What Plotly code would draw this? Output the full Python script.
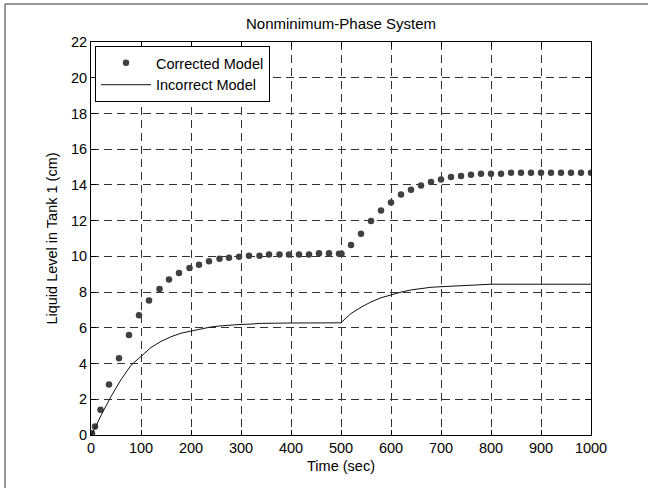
import plotly.graph_objects as go

# Corrected Model (dots)
corr_t = [0, 2, 8, 19, 36, 56, 76, 96, 116, 137, 156, 176, 197, 216, 236, 257, 276, 296, 316, 337,
          356, 377, 396, 416, 436, 456, 476, 496, 501, 520, 540, 560, 580, 600, 620, 640, 660, 680,
          700, 720, 740, 760, 780, 800, 820, 840, 860, 880, 900, 920, 940, 960, 980, 1000]
corr_h = [0.0, 0.1, 0.47, 1.42, 2.83, 4.3, 5.6, 6.7, 7.53, 8.17, 8.7, 9.07, 9.35, 9.53, 9.72, 9.86, 9.92, 9.98, 10.03, 10.03,
          10.1, 10.1, 10.1, 10.1, 10.1, 10.17, 10.17, 10.15, 10.15, 10.63, 11.27, 11.98, 12.57, 13.02, 13.47, 13.73, 13.97, 14.16,
          14.3, 14.44, 14.5, 14.57, 14.62, 14.62, 14.62, 14.68, 14.68, 14.68, 14.68, 14.68, 14.68, 14.68, 14.68, 14.68]

# Incorrect Model (line)
inc_t = [0, 10, 20, 40, 60, 80, 100, 120, 140, 160, 180, 200, 220, 240, 260, 280, 300, 320, 340, 400, 500,
         510, 520, 540, 560, 580, 600, 620, 640, 660, 680, 700, 750, 800, 1000]
inc_h = [0.0, 0.5, 1.1, 2.15, 3.1, 3.9, 4.4, 4.9, 5.24, 5.5, 5.7, 5.83, 5.95, 6.05, 6.11, 6.16, 6.19, 6.21, 6.25, 6.27, 6.28,
         6.55, 6.8, 7.15, 7.45, 7.68, 7.85, 8.0, 8.12, 8.2, 8.27, 8.3, 8.37, 8.44, 8.44]

x_ticks = list(range(0, 1001, 100))
y_ticks = list(range(0, 23, 2))

font = "Liberation Sans, Arial, sans-serif"
FS = 14.5

fig = go.Figure()
fig.add_trace(go.Scatter(x=corr_t, y=corr_h, mode="markers", name="Corrected Model",
                         marker=dict(color="#404040", size=6.5)))
fig.add_trace(go.Scatter(x=inc_t, y=inc_h, mode="lines", name="Incorrect Model",
                         line=dict(color="#111111", width=1)))

axis_common = dict(showline=True, linecolor="black", linewidth=1, mirror="ticks",
                   ticks="inside", ticklen=5, tickcolor="black",
                   showgrid=True, gridcolor="#333333", griddash="8px,5px", gridwidth=1,
                   zeroline=False, tickfont=dict(size=FS, color="black", family=font))

fig.update_layout(
    width=648, height=488,
    margin=dict(l=91, r=57, t=42, b=53),
    paper_bgcolor="white", plot_bgcolor="white",
    font=dict(family=font, size=FS, color="black"),
    title=dict(text="Nonminimum-Phase System", x=(91 + 250) / 648, xanchor="center",
               y=1 - 24 / 488, yanchor="middle", font=dict(size=15, family=font, color="black")),
    xaxis=dict(range=[0, 1000], tickvals=x_ticks, title=dict(text="Time (sec)", standoff=5,
               font=dict(size=FS, family=font)), **axis_common),
    yaxis=dict(range=[0, 22], tickvals=y_ticks, title=dict(text="Liquid Level in Tank 1 (cm)", standoff=9,
               font=dict(size=FS, family=font)), **axis_common),
    legend=dict(x=0.008, y=0.99, xanchor="left", yanchor="top", bgcolor="white",
                bordercolor="black", borderwidth=1, font=dict(size=FS, family=font),
                itemwidth=50, tracegroupgap=0),
    showlegend=True,
)

# outer frame (only left and top edges fall inside the canvas)
fig.add_shape(type="rect", xref="paper", yref="paper", layer="below",
              x0=(5 - 91) / 500, x1=(680 - 91) / 500,
              y0=(435 - 4) / 393, y1=(435 - 530) / 393,
              line=dict(color="#333333", width=1), fillcolor="rgba(0,0,0,0)")

fig.write_html("out.html", config={"displayModeBar": False},
               post_script="document.body.style.margin='0';document.body.style.overflow='hidden';")
